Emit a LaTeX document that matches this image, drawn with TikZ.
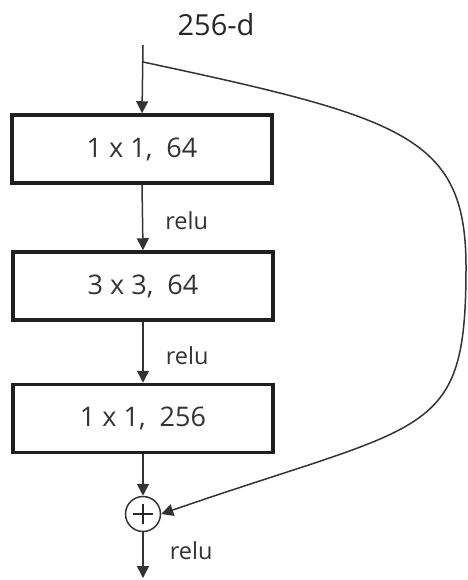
\documentclass[tikz,border=0pt]{standalone}
\usepackage{fontspec}
\setmainfont{Open Sans}
\usetikzlibrary{arrows.meta}
\begin{document}
\begin{tikzpicture}[x=1pt,y=-1pt,
  layer/.style={draw=black!88, line width=3.5pt, minimum width=260pt, minimum height=68pt,
    inner sep=0pt, font=\fontsize{27}{32}\selectfont, text=black!80},
  arr/.style={-{Triangle[width=12pt,length=12pt]}, line width=1.5pt, draw=black!80},
  lbl/.style={font=\fontsize{23.5}{28}\selectfont, text=black!80, anchor=west, inner sep=0pt},
  sumnode/.style={circle, draw=black!80, line width=1.5pt, minimum size=35pt, inner sep=0pt},
  plus/.style={line width=2pt, draw=black!85}]
\useasboundingbox (0,0) rectangle (467,580);

\node[font=\fontsize{29}{34}\selectfont, text=black!85, inner sep=0pt] (title) at (216,25) {256-d};

\coordinate (in) at (143,45);
\coordinate (split) at (143,62);
\node[layer] (b1) at (142,149) {1 x 1,\ \ 64};
\node[layer] (b2) at (143,286) {3 x 3,\ \ 64};
\node[layer] (b3) at (143,418.5) {1 x 1,\ \ 256};
\node[sumnode] (sum) at (143,514) {};
\coordinate (out) at (143,578);

\draw[plus] ([xshift=-10pt]sum.center) -- ([xshift=10pt]sum.center);
\draw[plus] ([yshift=-10pt]sum.center) -- ([yshift=10pt]sum.center);

\draw[arr] (in) -- (b1.north);
\draw[arr] (b1.south) -- node[lbl, pos=0.55, xshift=22pt] (r1) {relu} (b2.north);
\draw[arr] (b2.south) -- node[lbl, pos=0.55, xshift=22pt] (r2) {relu} (b3.north);
\draw[arr] (b3.south) -- (sum.north);
\draw[arr] (sum.south) -- node[lbl, pos=0.4, xshift=26pt] (r3) {relu} (out);

\draw[arr] (split) .. controls (405,118) and (466,137) .. (466,267)
  .. controls (466,440) and (430,421) .. (sum.east);
\end{tikzpicture}
\end{document}
